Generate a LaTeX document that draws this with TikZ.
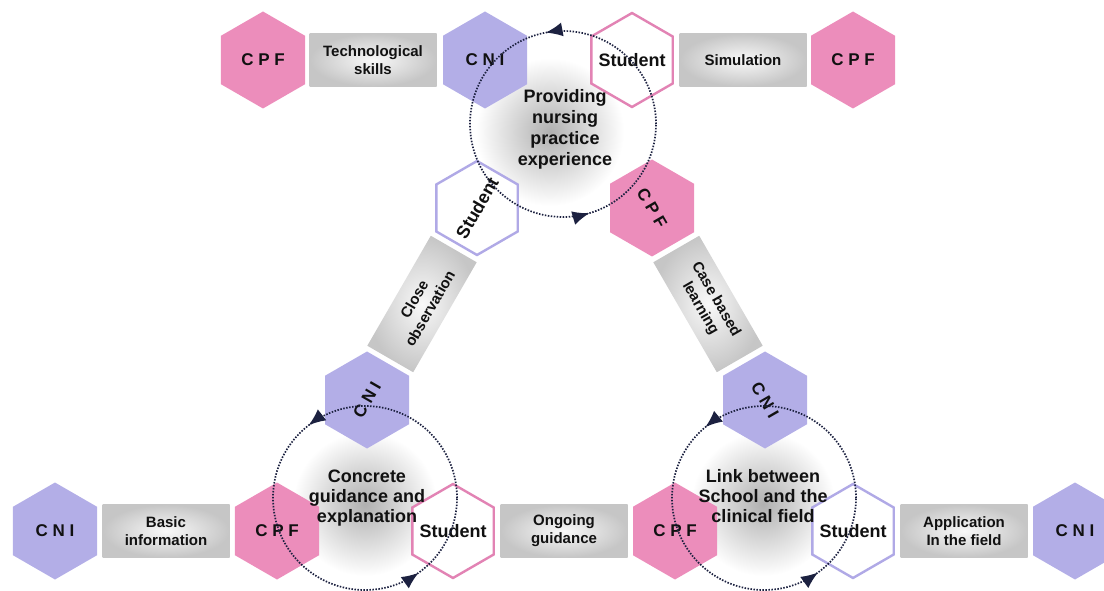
\documentclass[tikz,border=0pt]{standalone}
\usepackage{fontspec}
\setmainfont{Liberation Sans}
\usetikzlibrary{shapes.geometric,arrows.meta,decorations.markings}
\definecolor{cpf}{HTML}{EC8DBB}
\definecolor{cni}{HTML}{B3AEE7}
\definecolor{stpink}{HTML}{E283B4}
\definecolor{stlav}{HTML}{B0A9E6}
\definecolor{navy}{HTML}{1C2140}
\definecolor{txt}{HTML}{111111}
\tikzset{
  hexa/.style={regular polygon, regular polygon sides=6, shape border rotate=30,
    minimum size=97pt, inner sep=0pt, text=txt,
    font=\bfseries\fontsize{17}{20}\selectfont},
  cpfhex/.style={hexa, fill=cpf},
  cnihex/.style={hexa, fill=cni},
  stpinkhex/.style={hexa, draw=stpink, line width=2.4pt, fill=white, minimum size=94pt,
    font=\bfseries\fontsize{18}{20}\selectfont},
  stlavhex/.style={hexa, draw=stlav, line width=2.4pt, fill=white, minimum size=94pt,
    font=\bfseries\fontsize{18}{20}\selectfont},
  grbox/.style={rectangle, minimum width=127pt, minimum height=53pt, inner sep=0pt,
    inner color=gray!5, outer color=gray!45, align=center, text=txt,
    font=\bfseries\fontsize{15}{18}\selectfont},
  loopring/.style={line width=1.7pt, dash pattern=on 1.5pt off 1.5pt, draw=navy, postaction=decorate},
  glow/.style={inner color=gray!62, outer color=white},
  ctext/.style={align=center, text=txt, font=\bfseries\fontsize{18}{21}\selectfont}
}
\newcommand{\hl}[1]{\makebox[0pt]{#1}}
\newcommand{\ringtip}{\arrow[navy]{Latex[length=17pt,width=14pt]}}
\begin{document}
\begin{tikzpicture}[x=1pt,y=1pt]
\useasboundingbox (0,0) rectangle (1104,590);
\begin{scope}
\clip (0,0) rectangle (1104,590);
% centres of the three cycles
\coordinate (cT) at (563,466);
\coordinate (cL) at (365,92);
\coordinate (cR) at (764,92);
% glows
\shade[glow] (550,458) circle (74);
\shade[glow] (365,86) circle (72);
\shade[glow] (763,86) circle (72);
% top row
\node[cpfhex] (cpf1) at (263,530) {\hl{C P F}};
\node[grbox] (b1) at (373,530) {Technological\\skills};
\node[cnihex] (cni1) at (485,530) {\hl{C N I}};
\node[stpinkhex] (st1) at (632,530) {\hl{Student}};
\node[grbox] (b2) at (743,530) {Simulation};
\node[cpfhex] (cpf2) at (853,530) {\hl{C P F}};
% left diagonal
\node[stlavhex, rotate=60] (st2) at (477,382) {\hl{Student}};
\node[grbox, rotate=60] (b3) at (422,286) {Close\\observation};
\node[cnihex, rotate=60] (cni2) at (367,190) {\hl{C N I}};
% right diagonal
\node[cpfhex, rotate=-60] (cpf3) at (652,382) {\hl{C P F}};
\node[grbox, rotate=-60] (b4) at (708,286) {Case based\\learning};
\node[cnihex, rotate=-60] (cni3) at (765,190) {\hl{C N I}};
% bottom row
\node[cnihex] (cni4) at (55,59) {\hl{C N I}};
\node[grbox] (b5) at (166,59) {Basic\\information};
\node[cpfhex] (cpf4) at (277,59) {\hl{C P F}};
\node[stpinkhex] (st3) at (453,59) {\hl{Student}};
\node[grbox] (b6) at (564,59) {Ongoing\\guidance};
\node[cpfhex] (cpf5) at (675,59) {\hl{C P F}};
\node[stlavhex] (st4) at (853,59) {\hl{Student}};
\node[grbox] (b7) at (964,59) {Application\\In the field};
\node[cnihex] (cni5) at (1075,59) {\hl{C N I}};
% cycles
\draw[loopring, decoration={markings,
   mark=at position 0.28 with {\ringtip},
   mark=at position 0.796 with {\ringtip}}]
  (cT) ++(0:93) arc[start angle=0, end angle=360, radius=93];
\draw[loopring, decoration={markings,
   mark=at position 0.355 with {\ringtip},
   mark=at position 0.849 with {\ringtip}}]
  (cL) ++(0:92) arc[start angle=0, end angle=360, radius=92];
\draw[loopring, decoration={markings,
   mark=at position 0.36 with {\ringtip},
   mark=at position 0.85 with {\ringtip}}]
  (cR) ++(0:92) arc[start angle=0, end angle=360, radius=92];
% cycle texts
\node[ctext] (tT) at (565,461) {Providing\\nursing\\practice\\experience};
\node[ctext, font=\bfseries\fontsize{18}{20}\selectfont] (tL) at (367,92) {Concrete\\guidance and\\explanation};
\node[ctext, font=\bfseries\fontsize{18}{20}\selectfont] (tR) at (763,94) {Link between\\School and the\\clinical field};
\end{scope}
\end{tikzpicture}
\end{document}
